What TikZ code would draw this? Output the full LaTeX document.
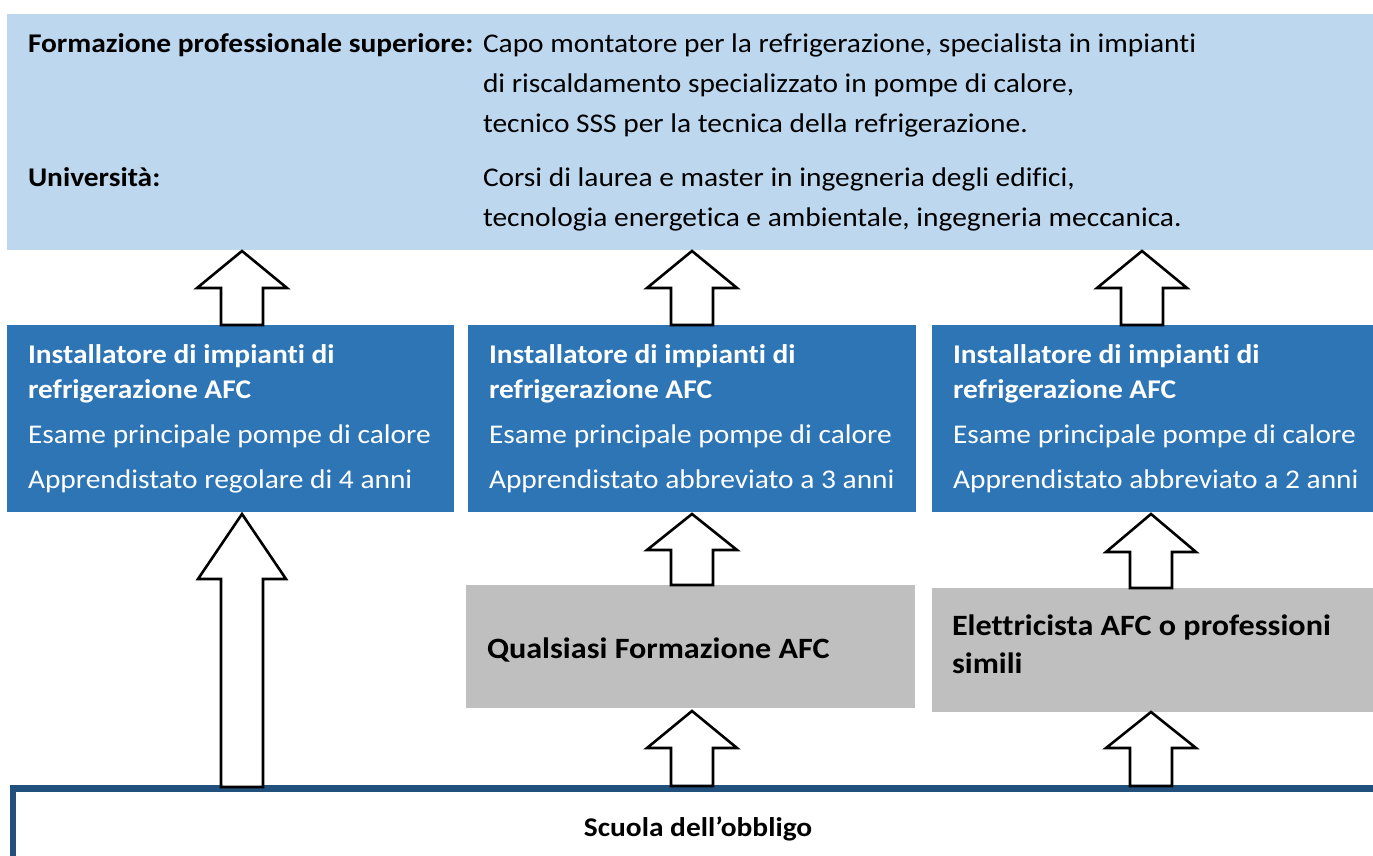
\documentclass[tikz,border=0pt]{standalone}
\usepackage{fontspec}
\setmainfont{Carlito}[Ligatures={NoCommon}, FakeStretch=1.09]
\definecolor{topblue}{HTML}{BDD7EE}
\definecolor{midblue}{HTML}{2E75B6}
\definecolor{greybox}{HTML}{BFBFBF}
\definecolor{darkblue}{HTML}{22507C}
\newcommand{\blockup}[6]{% cx, tip, headbase, bottom, headhalf, shafthalf
  \draw[arrowbody] ({#1-#6},#4) -- ({#1-#6},#3) -- ({#1-#5},#3) -- (#1,#2) -- ({#1+#5},#3) -- ({#1+#6},#3) -- ({#1+#6},#4) -- cycle;}
\begin{document}
\begin{tikzpicture}[x=1pt,y=-1pt,
  box/.style={rectangle, draw=none, inner sep=0pt, outer sep=0pt, anchor=north west},
  txt/.style={inner sep=0pt, outer sep=0pt, anchor=base west, font=\fontsize{27}{31}\selectfont},
  btxt/.style={txt, font=\fontsize{27}{31}\selectfont\bfseries},
  wtxt/.style={txt, text=white},
  wbtxt/.style={btxt, text=white},
  gtxt/.style={txt, font=\fontsize{29.5}{33}\selectfont\bfseries},
  arrowbody/.style={draw=black, fill=white, line width=2.6pt, miter limit=10}]
\useasboundingbox (0,0) rectangle (1373,856);
\clip (0,0) rectangle (1373,856);

% boxes
\node[box, fill=topblue, minimum width=1370pt, minimum height=236pt] (top) at (7,14) {};
\node[box, fill=midblue, minimum width=447pt, minimum height=187pt] (b1) at (7,325) {};
\node[box, fill=midblue, minimum width=448pt, minimum height=187pt] (b2) at (468,325) {};
\node[box, fill=midblue, minimum width=445pt, minimum height=187pt] (b3) at (932,325) {};
\node[box, fill=greybox, minimum width=449pt, minimum height=123pt] (g2) at (466,585) {};
\node[box, fill=greybox, minimum width=445pt, minimum height=124pt] (g3) at (932,588) {};
\coordinate (sc) at (13,900);
\coordinate (sr) at (1400,788.5);
\draw[darkblue, line width=6.5pt] (sc) |- (sr);
\node[inner sep=0pt, anchor=base, font=\fontsize{27}{31}\selectfont\bfseries] (school) at (698,836) {Scuola dell’obbligo};

% top texts
\node[btxt] (fl1) at (28,53) {Formazione professionale superiore:};
\node[txt] (fr1) at (483,53) {Capo montatore per la refrigerazione, specialista in impianti};
\node[txt] (fr2) at (483,93) {di riscaldamento specializzato in pompe di calore,};
\node[txt] (fr3) at (483,133) {tecnico SSS per la tecnica della refrigerazione.};
\node[btxt] (ul1) at (28,186) {Università:};
\node[txt] (ur1) at (483,186) {Corsi di laurea e master in ingegneria degli edifici,};
\node[txt] (ur2) at (483,226) {tecnologia energetica e ambientale, ingegneria meccanica.};

% blue box texts
\foreach \n/\x/\last in {1/28/{Apprendistato regolare di 4 anni},2/489/{Apprendistato abbreviato a 3 anni},3/953/{Apprendistato abbreviato a 2 anni}}{
  \node[wbtxt] (i\n a) at (\x,363) {Installatore di impianti di};
  \node[wbtxt] (i\n b) at (\x,398) {refrigerazione AFC};
  \node[wtxt] (i\n c) at (\x,443) {Esame principale pompe di calore};
  \node[wtxt] (i\n d) at (\x,488) {\last};
}

% grey texts
\node[gtxt] (q1) at (487,658) {Qualsiasi Formazione AFC};
\node[gtxt] (e1) at (952,635) {Elettricista AFC o professioni};
\node[gtxt] (e2) at (952,673) {simili};

% block arrows
\blockup{242}{251}{288}{325}{45}{21}
\blockup{692}{251}{288}{325}{45}{21}
\blockup{1142}{251}{288}{325}{45}{21}
\blockup{242}{514}{579}{787}{44}{21}
\blockup{692}{514}{550}{585}{45}{21}
\blockup{1151}{514}{552}{588}{45}{21}
\blockup{692}{711}{748}{786}{45}{21}
\blockup{1151}{712}{748}{786}{45}{21}
\end{tikzpicture}
\end{document}
